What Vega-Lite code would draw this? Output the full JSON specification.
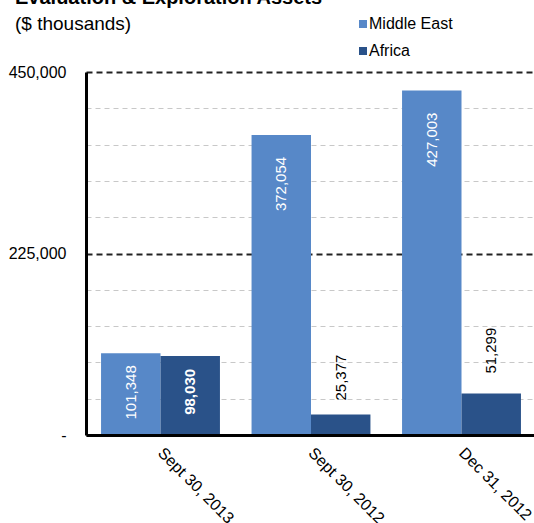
{
  "$schema": "https://vega.github.io/schema/vega-lite/v6.json",
  "width": 450,
  "height": 363,
  "autosize": {"type": "none"},
  "padding": {"left": 86, "top": 72, "right": 0, "bottom": 88},
  "background": "white",
  "config": {"view": {"stroke": null}, "font": "Liberation Sans"},
  "title": {
    "text": "Evaluation & Exploration Assets",
    "subtitle": "($ thousands)",
    "anchor": "start",
    "frame": "group",
    "dx": -71,
    "dy": 22,
    "font": "Liberation Sans",
    "fontSize": 20,
    "fontWeight": "bold",
    "color": "#000000",
    "subtitleFont": "Liberation Sans",
    "subtitleFontSize": 19,
    "subtitleFontWeight": "normal",
    "subtitleColor": "#000000",
    "subtitlePadding": 7,
    "offset": 4
  },
  "data": {
    "values": [
      {"date": "Sept 30, 2013", "series": "Middle East", "value": 101348},
      {"date": "Sept 30, 2013", "series": "Africa", "value": 98030},
      {"date": "Sept 30, 2012", "series": "Middle East", "value": 372054},
      {"date": "Sept 30, 2012", "series": "Africa", "value": 25377},
      {"date": "Dec 31, 2012", "series": "Middle East", "value": 427003},
      {"date": "Dec 31, 2012", "series": "Africa", "value": 51299}
    ]
  },
  "encoding": {
    "x": {
      "field": "date",
      "type": "nominal",
      "sort": ["Sept 30, 2013", "Sept 30, 2012", "Dec 31, 2012"],
      "scale": {"paddingInner": 0.21, "paddingOuter": 0.1},
      "axis": {
        "title": null,
        "labelAngle": 45,
        "labelAlign": "left",
        "labelBaseline": "middle",
        "labelPadding": 15,
        "labelFontSize": 16,
        "labelFont": "Liberation Sans",
        "labelColor": "#000000",
        "ticks": false,
        "domainColor": "#000000",
        "domainWidth": 3,
        "zindex": 2
      }
    },
    "xOffset": {
      "field": "series",
      "type": "nominal",
      "sort": ["Middle East", "Africa"],
      "scale": {"paddingInner": 0, "paddingOuter": 0}
    },
    "y": {
      "field": "value",
      "type": "quantitative",
      "scale": {"domain": [0, 450000], "nice": false},
      "axis": {
        "title": null,
        "values": [0, 45000, 90000, 135000, 180000, 225000, 270000, 315000, 360000, 405000, 450000],
        "labelExpr": "datum.value == 0 ? '-' : (datum.value % 225000 == 0 ? format(datum.value, ',') : '')",
        "labelFontSize": 16,
        "labelFont": "Liberation Sans",
        "labelColor": "#000000",
        "labelPadding": 20,
        "ticks": false,
        "domainColor": "#000000",
        "domainWidth": 3,
        "grid": true,
        "gridColor": {"condition": {"test": "datum.value % 225000 == 0", "value": "#222222"}, "value": "#c8c8c8"},
        "gridDash": {"condition": {"test": "datum.value % 225000 == 0", "value": [6, 4]}, "value": [5, 4]},
        "gridWidth": {"condition": {"test": "datum.value % 225000 == 0", "value": 2}, "value": 1},
        "zindex": 0
      }
    }
  },
  "layer": [
    {
      "mark": {"type": "bar"},
      "encoding": {
        "color": {
          "field": "series",
          "type": "nominal",
          "scale": {"domain": ["Middle East", "Africa"], "range": ["#5788C8", "#2A5289"]},
          "legend": {
            "orient": "none",
            "legendX": 269,
            "legendY": -56,
            "title": null,
            "symbolType": "square",
            "symbolSize": 64,
            "symbolStrokeWidth": 0,
            "labelFontSize": 16,
            "labelFont": "Liberation Sans",
            "labelColor": "#000000",
            "labelOffset": -2,
            "rowPadding": 11
          }
        }
      }
    },
    {
      "transform": [{"filter": "datum.value > 300000"}],
      "mark": {"type": "text", "angle": 270, "align": "right", "baseline": "middle", "dx": -22, "fontSize": 15, "color": "#ffffff"},
      "encoding": {"text": {"field": "value", "type": "quantitative", "format": ","}}
    },
    {
      "transform": [{"filter": "datum.value > 90000 && datum.value < 300000 && datum.series == 'Middle East'"}],
      "mark": {"type": "text", "angle": 270, "align": "right", "baseline": "middle", "dx": -12, "fontSize": 15, "color": "#ffffff"},
      "encoding": {"text": {"field": "value", "type": "quantitative", "format": ","}}
    },
    {
      "transform": [{"filter": "datum.value > 90000 && datum.value < 300000 && datum.series == 'Africa'"}],
      "mark": {"type": "text", "angle": 270, "align": "right", "baseline": "middle", "dx": -13, "fontSize": 15, "fontWeight": "bold", "color": "#ffffff"},
      "encoding": {"text": {"field": "value", "type": "quantitative", "format": ","}}
    },
    {
      "transform": [{"filter": "datum.value < 40000"}],
      "mark": {"type": "text", "angle": 270, "align": "left", "baseline": "middle", "dx": 14, "fontSize": 15, "color": "#000000"},
      "encoding": {"text": {"field": "value", "type": "quantitative", "format": ","}}
    },
    {
      "transform": [{"filter": "datum.value > 40000 && datum.value < 90000"}],
      "mark": {"type": "text", "angle": 270, "align": "left", "baseline": "middle", "dx": 20, "fontSize": 15, "color": "#000000"},
      "encoding": {"text": {"field": "value", "type": "quantitative", "format": ","}}
    }
  ]
}
